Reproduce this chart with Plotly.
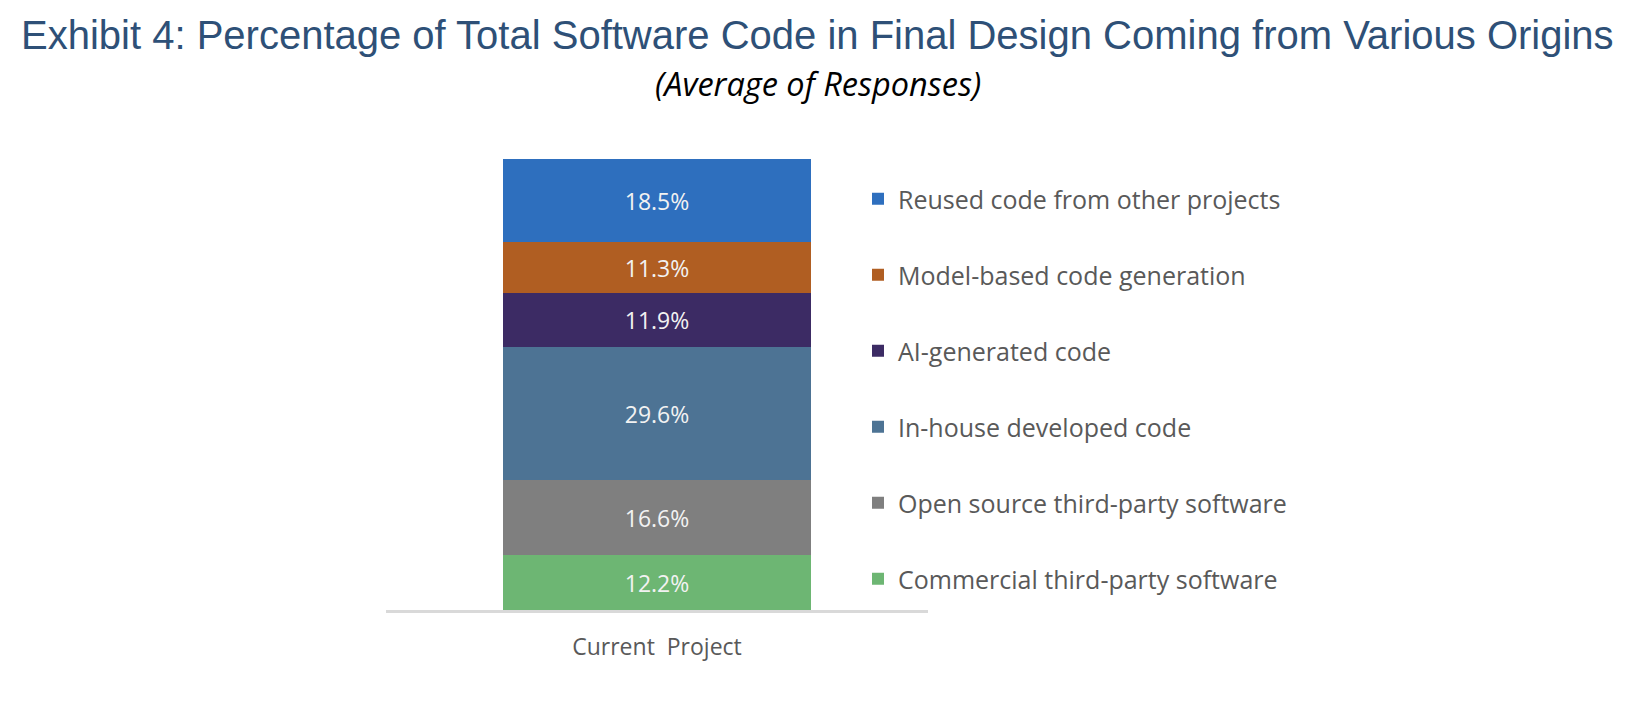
import plotly.graph_objects as go

category = ['Current\u00a0 Project']
origins = ['Commercial third-party software', 'Open source third-party software',
           'In-house developed code', 'AI-generated code',
           'Model-based code generation', 'Reused code from other projects']
shares = [12.2, 16.6, 29.6, 11.9, 11.3, 18.5]
colors = ['#6DB673', '#7F7F7F', '#4D7394', '#3C2B64', '#B05E22', '#2E6FBE']

fig = go.Figure()
for i, (name, val, col) in enumerate(zip(origins, shares, colors)):
    fig.add_trace(go.Bar(
        x=category, y=[val], name=name, legendgroup=name,
        legendrank=len(origins) - i,  # top segment first in legend
        marker=dict(color=col, line=dict(width=0)),
        text=[f'{val:.1f}%'], textposition='inside', insidetextanchor='middle',
        textfont=dict(color='#F2F2F2', size=23, family='Open Sans'),
        width=0.568,
    ))

fig.update_layout(
    barmode='stack',
    width=1644, height=706,
    margin=dict(l=378, r=724, t=151, b=104, autoexpand=False),
    plot_bgcolor='white', paper_bgcolor='white',
    showlegend=True,
    legend=dict(
        xref='container', yref='container', x=850 / 1644, y=1 - 168 / 706,
        xanchor='left', yanchor='top', traceorder='grouped',
        tracegroupgap=40.5, bgcolor='rgba(0,0,0,0)', maxheight=700,
        font=dict(family='Open Sans', size=25, color='#595959'),
    ),
    xaxis=dict(range=[-0.5, 0.5], showline=True, linecolor='#D9D9D9', linewidth=2.5,
               ticks='', ticklabelstandoff=15,
               tickfont=dict(family='Open Sans', size=23, color='#595959'),
               showgrid=False, fixedrange=True),
    yaxis=dict(range=[0, sum(shares)], visible=False, showgrid=False, fixedrange=True),
    annotations=[
        dict(text='Exhibit 4: Percentage of Total Software Code in Final Design Coming from Various Origins',
             xref='paper', yref='paper', x=(809.5 - 378) / 542, y=(602 - 27) / 451,
             xanchor='center', yanchor='middle', showarrow=False,
             font=dict(family='Liberation Sans', size=40, color='#2E5077')),
        dict(text='<i>(Average of Responses)</i>',
             xref='paper', yref='paper', x=(810 - 378) / 542, y=(602 - 75) / 451,
             xanchor='center', yanchor='middle', showarrow=False,
             font=dict(family='Open Sans', size=32.5, color='black')),
    ],
)

fig.write_html('out.html')
